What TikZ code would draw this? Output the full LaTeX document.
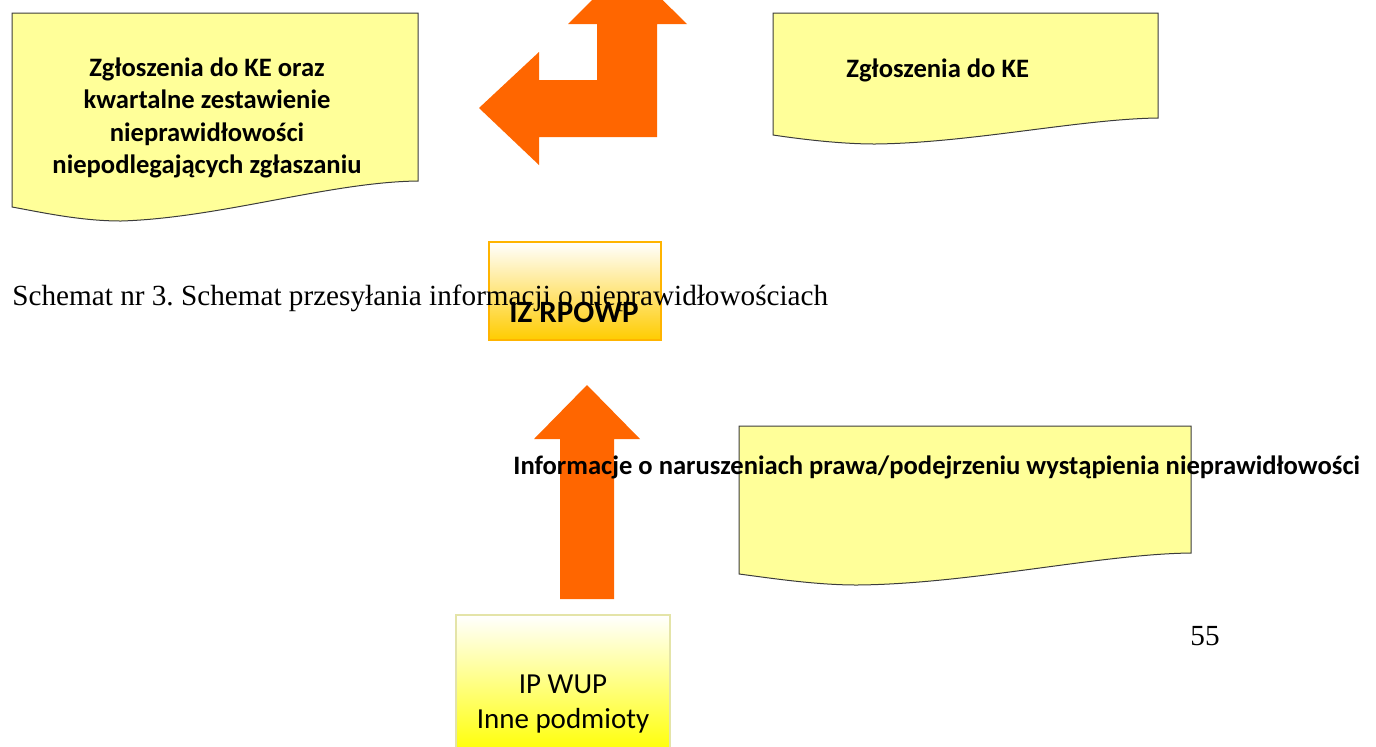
\documentclass[tikz,border=0pt]{standalone}
\usepackage{fontspec}
\setmainfont{Liberation Serif}
\newfontfamily\calibri{Carlito}
\usetikzlibrary{calc}
\tikzset{>=latex}
\frenchspacing
\definecolor{docyellow}{HTML}{FFFF99}
\definecolor{docline}{HTML}{3C3C3C}
\definecolor{arroworange}{HTML}{FF6600}
\definecolor{izgold}{HTML}{FFCC00}
\definecolor{izline}{HTML}{FFB400}
\definecolor{ipline}{HTML}{E4E4A8}
\tikzstyle{docbox}=[fill=docyellow,draw=docline,line width=0.5pt]
\tikzstyle{bigarrow}=[fill=arroworange,draw=none]
\tikzstyle{label}=[inner sep=0pt,font={\calibri\bfseries\fontsize{13.3}{16.2}\selectfont}]

\begin{document}
\begin{tikzpicture}[x=0.5pt,y=-0.5pt]
	\useasboundingbox (0,0) rectangle (1376,746);
	\clip (0,0) rectangle (1376,746);
	% documents
	\draw[docbox] (12,13) -- (418,13) -- (418,181) .. controls (330,182) and (220,218) .. (121,221) .. controls (80,221) and (40,212) .. (12,207) -- cycle;
	\draw[docbox] (773,13) -- (1158,13) -- (1158,118) .. controls (1080,119) and (970,143) .. (875,144) .. controls (840,144) and (800,139) .. (773,135) -- cycle;
	\draw[docbox] (739,426) -- (1191,426) -- (1191,553) .. controls (1100,554) and (970,584) .. (857,585) .. controls (815,585) and (770,578) .. (739,574) -- cycle;
	% arrows
	\fill[bigarrow] (627,-35) -- (687,24) -- (657,24) -- (657,137) -- (539,137) -- (539,165) -- (479,108) -- (539,52) -- (539,80) -- (597,80) -- (597,24) -- (568,24) -- cycle;
	\fill[bigarrow] (587,385) -- (640,439) -- (614,439) -- (614,599) -- (560,599) -- (560,439) -- (534,439) -- cycle;
	% units
	\node[draw=izline,line width=0.6pt,top color=white,bottom color=izgold,minimum width=172*0.5pt,minimum height=98*0.5pt,inner sep=0pt] (izbox) at (575,291) {};
	\node[draw=ipline,line width=0.6pt,top color=white,bottom color=yellow,minimum width=214*0.5pt,minimum height=140*0.5pt,inner sep=0pt] (ipbox) at (563,685) {};
	% texts
	\node[label,align=center] (ketext1) at (207,118) {Zgłoszenia do KE oraz\\kwartalne zestawienie\\nieprawidłowości\\niepodlegających zgłaszaniu};
	\node[label,anchor=base west] (ketext2) at (846,77) {Zgłoszenia do KE};
	\node[label,anchor=base west] (infotext) at (513,474) {Informacje o naruszeniach prawa/podejrzeniu wystąpienia nieprawidłowości};
	\node[inner sep=0pt,anchor=base west,font=\fontsize{14.6}{17}\selectfont] (caption) at (12,305) {Schemat nr 3. Schemat przesyłania informacji o nieprawidłowościach};
	\node[inner sep=0pt,anchor=base,font={\calibri\bfseries\fontsize{15.5}{18}\selectfont}] (iztext) at (574,322) {IZ RPOWP};
	\node[inner sep=0pt,align=center,font={\calibri\fontsize{14.5}{17.5}\selectfont}] (iptext) at (563,704) {IP WUP\\Inne podmioty};
	\node[inner sep=0pt,anchor=base west,font=\fontsize{14.6}{17}\selectfont] (pagenum) at (1190,645) {55};
\end{tikzpicture}
\end{document}
